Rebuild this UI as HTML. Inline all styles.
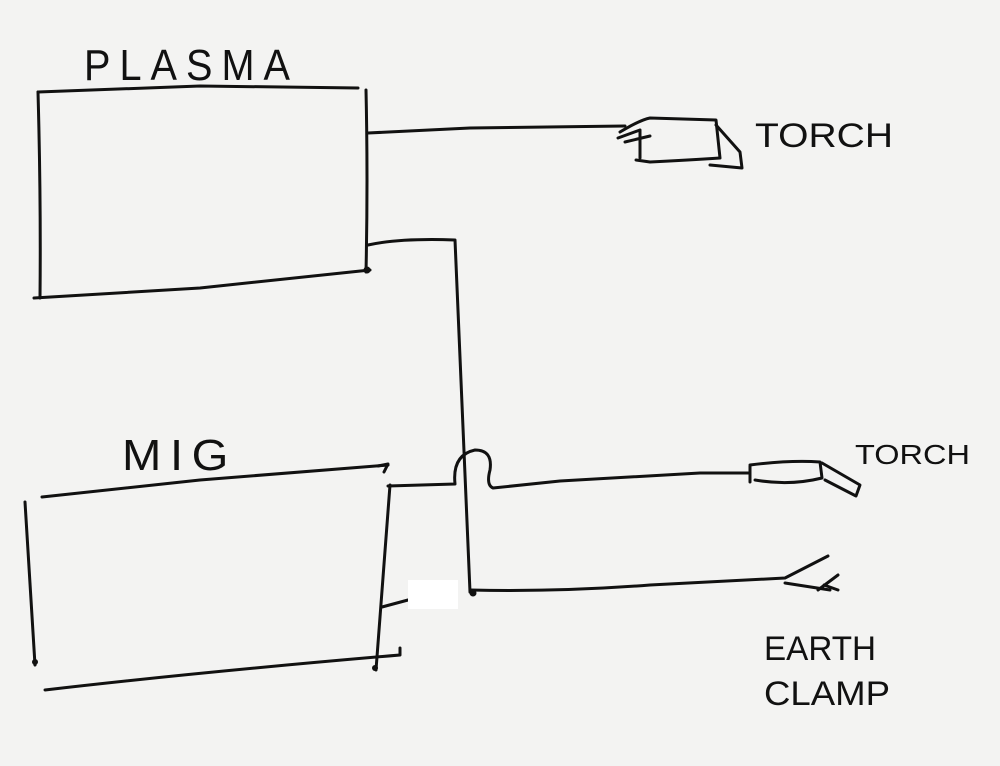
<!DOCTYPE html>
<html><head><style>
html,body{margin:0;padding:0;background:#f3f3f2;}
svg{display:block}
text{font-family:"Liberation Sans",sans-serif;fill:#111;}
</style></head><body>
<svg width="1000" height="766" viewBox="0 0 1000 766" xmlns="http://www.w3.org/2000/svg">
<rect width="1000" height="766" fill="#f3f3f2"/>
<g fill="none" stroke="#111" stroke-width="3" stroke-linecap="round" stroke-linejoin="round">
<!-- Plasma box -->
<path d="M38,92 L200,86 L358,88"/>
<path d="M38,92 Q41,200 40,298"/>
<path d="M34,298 L200,288 L370,270"/>
<path d="M366,90 Q368,180 366,272"/>
<!-- plasma torch wire -->
<path d="M368,133 L470,128 L625,126"/>
<path d="M620,132 Q640,120 650,118 L716,120 L720,158 Q690,160 650,162 L636,160"/>
<path d="M618,138 L640,130 M625,142 L650,136 M640,130 L640,158"/>
<path d="M716,125 L740,152 L742,168 L710,165"/>
<!-- plasma to earth -->
<path d="M368,245 Q400,238 455,240 Q462,400 470,592"/>
<!-- MIG box -->
<path d="M42,497 L200,480 L388,465"/>
<path d="M25,502 Q30,580 35,665"/>
<path d="M45,690 Q200,672 400,655 L400,648"/>
<path d="M390,485 Q383,580 376,670"/>
<path d="M378,466 L388,464 L384,472"/>
<!-- MIG torch wire -->
<path d="M388,486 L455,484 Q452,455 475,450 Q493,450 490,470 Q486,485 493,488 L560,481 L700,473 L750,473"/>
<path d="M750,466 L750,482 M750,465 Q790,460 820,462 L822,478 Q790,486 755,480"/>
<path d="M822,463 L860,485 L856,496 L825,480"/>
<!-- earth wire -->
<path d="M470,590 Q560,592 650,585 L785,578 L828,556 M785,583 L830,590"/>
<path d="M818,590 L838,575 M824,585 L838,590"/>
<path d="M382,607 L408,600"/>
</g>
<circle cx="367" cy="270" r="3.5" fill="#111"/>
<circle cx="473" cy="593" r="3.5" fill="#111"/>
<circle cx="375" cy="668" r="3" fill="#111"/>
<circle cx="35" cy="662" r="3" fill="#111"/>
<rect x="408" y="580" width="50" height="29" fill="#fff"/>
<text x="84" y="80" font-size="44" letter-spacing="10" textLength="215" lengthAdjust="spacingAndGlyphs">PLASMA</text>
<text x="122" y="470" font-size="44" letter-spacing="8" textLength="115" lengthAdjust="spacingAndGlyphs">MIG</text>
<text x="755" y="147" font-size="34" textLength="138" lengthAdjust="spacingAndGlyphs">TORCH</text>
<text x="855" y="464" font-size="28" textLength="115" lengthAdjust="spacingAndGlyphs">TORCH</text>
<text x="764" y="660" font-size="34" textLength="112" lengthAdjust="spacingAndGlyphs">EARTH</text>
<text x="764" y="705" font-size="34" textLength="126" lengthAdjust="spacingAndGlyphs">CLAMP</text>
</svg>
</body></html>
